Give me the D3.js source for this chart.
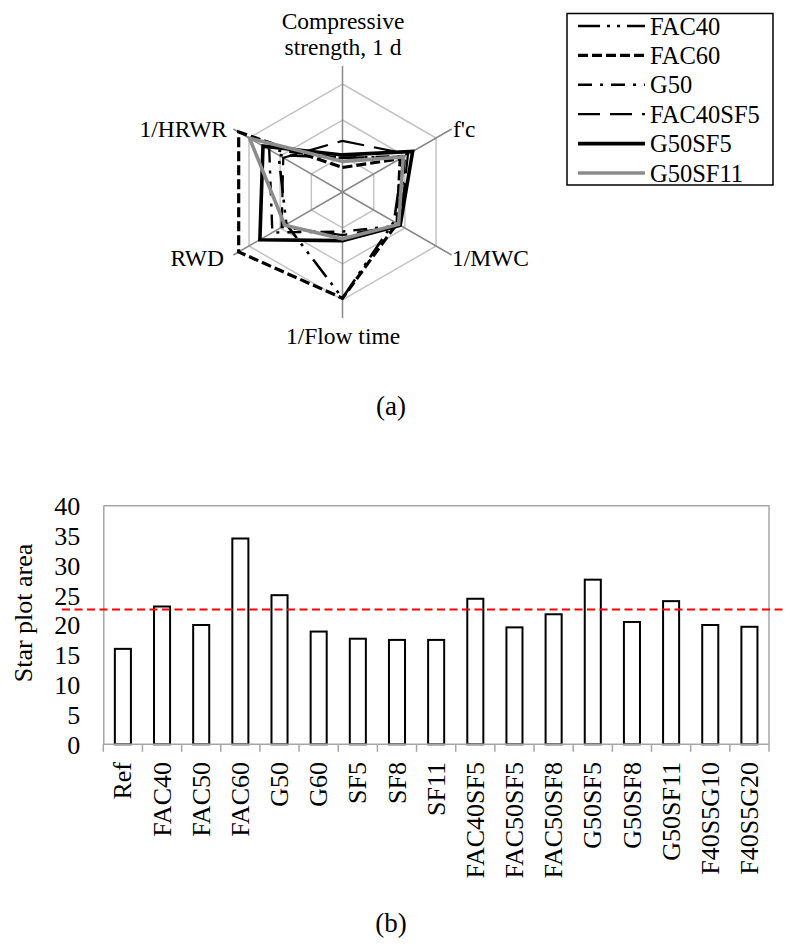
<!DOCTYPE html>
<html><head><meta charset="utf-8">
<script src="https://d3js.org/d3.v7.min.js"></script>
<style>
html,body{margin:0;padding:0;background:#fff;}
svg{display:block;}
text{font-family:"Liberation Serif","Times New Roman",serif;}
</style></head>
<body>
<svg id="c" width="785" height="951" font-family="Liberation Serif"></svg>
<script>
// ---------- Data ----------
const radarAxes = ["Compressive strength, 1 d", "f'c", "1/MWC", "1/Flow time", "RWD", "1/HRWR"];
const seriesNames = ["FAC40", "FAC60", "G50", "FAC40SF5", "G50SF5", "G50SF11"];
const FAC40    = [0.95, 1.95, 1.65, 2.95, 1.80, 2.05];
const FAC60    = [0.68, 1.85, 1.75, 2.95, 3.33, 3.33];
const G50      = [0.95, 2.00, 1.85, 1.10, 2.25, 2.35];
const FAC40SF5 = [1.42, 2.10, 1.85, 1.20, 1.95, 1.90];
const G50SF5   = [1.03, 2.25, 1.85, 1.35, 2.65, 2.55];
const G50SF11  = [0.85, 1.95, 1.80, 1.30, 1.85, 2.98];
const radarGridLevels = [1, 2, 3];
const radarMax = 3.5;

const barCategories = ["Ref","FAC40","FAC50","FAC60","G50","G60","SF5","SF8","SF11",
  "FAC40SF5","FAC50SF5","FAC50SF8","G50SF5","G50SF8","G50SF11","F40S5G10","F40S5G20"];
const barValues = [16.0, 23.1, 20.0, 34.5, 25.0, 18.9, 17.7, 17.5, 17.5,
  24.4, 19.6, 21.8, 27.6, 20.5, 24.0, 20.0, 19.7];
const refLineValue = 22.6;
const yTicks = [0,5,10,15,20,25,30,35,40];

(function(){
const FONT = "Liberation Serif, Times New Roman, serif";
const styles = {
  FAC40:    {stroke:"#000", width:2.6, dash:"22,7,3,7,3,7"},
  FAC60:    {stroke:"#000", width:3.2, dash:"10,4"},
  G50:      {stroke:"#000", width:2.4, dash:"14,8,3,8"},
  FAC40SF5: {stroke:"#000", width:2.2, dash:"22,10"},
  G50SF5:   {stroke:"#000", width:3.6, dash:null},
  G50SF11:  {stroke:"#8c8c8c", width:3.6, dash:null}
};
const seriesData = {FAC40, FAC60, G50, FAC40SF5, G50SF5, G50SF11};

const svg = d3.select("#c");

// ---------- Radar ----------
const cx = 342.5, cy = 192;
const rScale = d3.scaleLinear().domain([0, radarMax]).range([0, 126]);
const n = radarAxes.length;
const ang = i => i * 2 * Math.PI / n;
const rg = svg.append("g").attr("font-family", FONT);

radarGridLevels.forEach(l => {
  const pts = d3.range(n).map(i => [cx + rScale(l)*Math.sin(ang(i)), cy - rScale(l)*Math.cos(ang(i))]);
  rg.append("polygon").attr("points", pts.map(p=>p.join(",")).join(" "))
    .attr("fill","none").attr("stroke","#c4c4c4").attr("stroke-width",1.5);
});
d3.range(n).forEach(i => {
  rg.append("line").attr("x1",cx).attr("y1",cy)
    .attr("x2",cx + rScale(radarMax)*Math.sin(ang(i)))
    .attr("y2",cy - rScale(radarMax)*Math.cos(ang(i)))
    .attr("stroke","#8a8a8a").attr("stroke-width",1.5);
});

const radial = d3.lineRadial().angle((d,i)=>ang(i)).radius(d=>rScale(d)).curve(d3.curveLinearClosed);
seriesNames.forEach(name => {
  const s = styles[name];
  rg.append("path").attr("transform",`translate(${cx},${cy})`)
    .attr("d", radial(seriesData[name]))
    .attr("fill","none").attr("stroke",s.stroke).attr("stroke-width",s.width)
    .attr("stroke-dasharray", s.dash).attr("stroke-linejoin","miter");
});

const lf = 23.5;
const lab = (xx, yy, anchor, t) => rg.append("text").attr("x",xx).attr("y",yy)
  .attr("text-anchor",anchor).attr("font-size",lf).attr("font-family",FONT).text(t);
lab(343, 28.8, "middle", "Compressive");
lab(343, 55.2, "middle", "strength, 1 d");
lab(453, 137, "start", radarAxes[1]);
lab(452, 266, "start", radarAxes[2]);
lab(343, 344, "middle", radarAxes[3]);
lab(224, 266, "end", radarAxes[4]);
lab(227, 137, "end", radarAxes[5]);

// legend
const lg = svg.append("g").attr("font-family", FONT);
lg.append("rect").attr("x",567).attr("y",13.5).attr("width",206).attr("height",171.5)
  .attr("fill","#fff").attr("stroke","#000").attr("stroke-width",1.5);
seriesNames.forEach((name,i) => {
  const yy = 26 + i*29.4;
  const s = styles[name];
  lg.append("line").attr("x1",578).attr("x2",645).attr("y1",yy).attr("y2",yy)
    .attr("stroke",s.stroke).attr("stroke-width",s.width).attr("stroke-dasharray",s.dash);
  lg.append("text").attr("x",650).attr("y",yy+8.5).attr("font-size",24.5).attr("font-family",FONT).text(name);
});

svg.append("text").attr("x",391).attr("y",415).attr("text-anchor","middle")
  .attr("font-size",27).attr("font-family",FONT).text("(a)");

// ---------- Bar chart ----------
const pLeft = 103.3, pRight = 769, pTop = 505.7, pBottom = 744.3;
const x = d3.scaleBand().domain(barCategories).range([pLeft, pRight]).paddingInner(0.59).paddingOuter(0.295);
const y = d3.scaleLinear().domain([0,40]).range([pBottom, pTop]);
const bg = svg.append("g").attr("font-family", FONT);

bg.append("path").attr("d",`M${pLeft},${pTop}H${pRight}V${pBottom}`)
  .attr("fill","none").attr("stroke","#a6a6a6").attr("stroke-width",1.5);

bg.selectAll("rect.bar").data(barValues).enter().append("rect")
  .attr("class","bar")
  .attr("x",(d,i)=>x(barCategories[i])).attr("width",x.bandwidth())
  .attr("y",d=>y(d)).attr("height",d=>pBottom - y(d))
  .attr("fill","#fff").attr("stroke","#000").attr("stroke-width",2);

const yAxis = d3.axisLeft(y).tickValues(yTicks).tickSize(0).tickPadding(23);
const ya = bg.append("g").attr("transform",`translate(${pLeft},0)`).call(yAxis);
ya.attr("font-family", FONT).attr("font-size", 26);
ya.select(".domain").attr("stroke","#a6a6a6").attr("stroke-width",1.5);
ya.selectAll("text").attr("font-size",26).attr("font-family",FONT).attr("fill","#000").attr("dy","0.34em");

const step = x.step();
const xa = bg.append("g");
xa.append("line").attr("x1",pLeft).attr("x2",pRight).attr("y1",pBottom).attr("y2",pBottom)
  .attr("stroke","#a6a6a6").attr("stroke-width",1.5);
d3.range(barCategories.length+1).forEach(i=>{
  const xx = pLeft + i*step;
  xa.append("line").attr("x1",xx).attr("x2",xx).attr("y1",pBottom).attr("y2",pBottom+7.5)
    .attr("stroke","#a6a6a6").attr("stroke-width",1.5);
});
xa.selectAll("text.xl").data(barCategories).enter().append("text")
  .attr("class","xl")
  .attr("transform",d=>`translate(${x(d)+x.bandwidth()/2},762) rotate(-90)`)
  .attr("text-anchor","end").attr("dy","0.33em").attr("font-size",26).attr("font-family",FONT).text(d=>d);

bg.append("line").attr("x1",62).attr("x2",785).attr("y1",y(refLineValue)).attr("y2",y(refLineValue))
  .attr("stroke","#ff0000").attr("stroke-width",2).attr("stroke-dasharray","8,4.5");

bg.append("text").attr("transform",`translate(32,613) rotate(-90)`).attr("text-anchor","middle")
  .attr("font-size",26).attr("font-family",FONT).text("Star plot area");

svg.append("text").attr("x",391).attr("y",932).attr("text-anchor","middle")
  .attr("font-size",27).attr("font-family",FONT).text("(b)");
})();
</script>
</body></html>
